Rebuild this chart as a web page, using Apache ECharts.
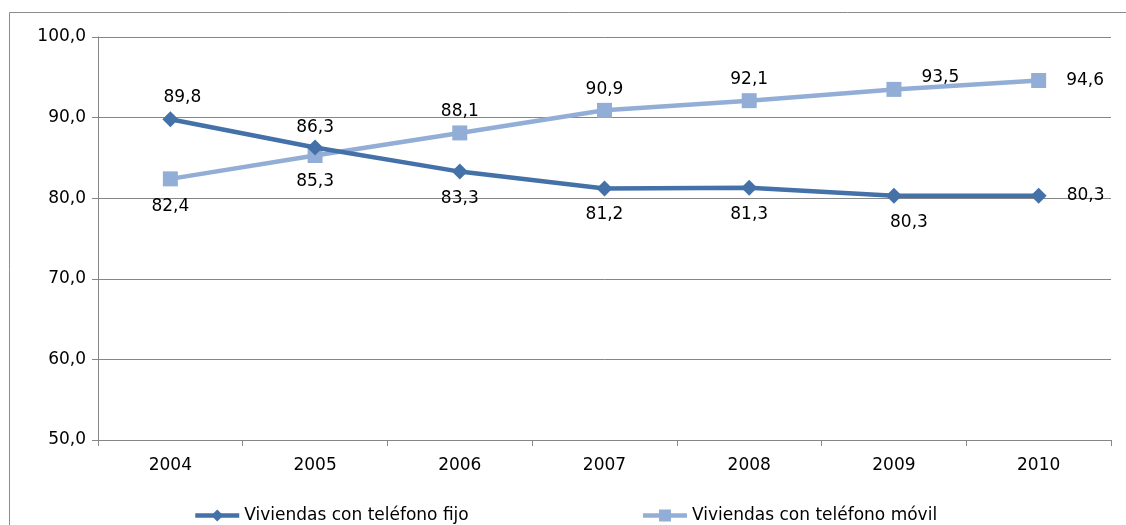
<!DOCTYPE html>
<html>
<head>
<meta charset="utf-8">
<script src="https://cdn.jsdelivr.net/npm/echarts@6/dist/echarts.min.js"></script>
<style>
  html, body { margin: 0; padding: 0; background: #fff; }
  #chart { width: 1126px; height: 525px; }
</style>
</head>
<body>
<div id="chart"></div>
<script>
const years = ['2004', '2005', '2006', '2007', '2008', '2009', '2010']
const fijo = [89.8, 86.3, 83.3, 81.2, 81.3, 80.3, 80.3]
const movil = [82.4, 85.3, 88.1, 90.9, 92.1, 93.5, 94.6]
const fijoName = 'Viviendas con teléfono fijo'
const movilName = 'Viviendas con teléfono móvil'

const FONT = 'DejaVu Sans'
const FS = 17
const fmt = v => v.toFixed(1).replace('.', ',')

// posición de cada etiqueta (como en el original)
const fijoLabels = [
  { position: 'top', offset: [12, 0] },
  { position: 'top', offset: [0, 2] },
  { position: 'bottom', distance: 10 },
  { position: 'bottom', distance: 10 },
  { position: 'bottom', distance: 10 },
  { position: 'bottom', distance: 10, offset: [15, 0] },
  { position: 'right', distance: 20 }
]
const movilLabels = [
  { position: 'bottom', distance: 12 },
  { position: 'bottom', distance: 10 },
  { position: 'top' },
  { position: 'top' },
  { position: 'top' },
  { position: 'right', distance: 20, offset: [0, -12] },
  { position: 'right', distance: 20 }
]

const mkData = (vals, labels) => vals.map((v, i) => ({ value: v, label: labels[i] }))

const chart = echarts.init(document.getElementById('chart'))
chart.setOption({
  animation: false,
  textStyle: { fontFamily: FONT },
  graphic: [{
    type: 'rect',
    shape: { x: 9.5, y: 12.5, width: 1200, height: 700 },
    style: { fill: 'none', stroke: '#8c8c8c', lineWidth: 1 },
    silent: true
  }],
  grid: { left: 98, right: 15, top: 37, bottom: 85 },
  legend: {
    left: 188,
    top: 502,
    itemGap: 172,
    itemWidth: 44,
    itemHeight: 15,
    lineStyle: { width: 4.5 },
    textStyle: { fontFamily: FONT, fontSize: FS, color: '#000' },
    data: [fijoName, movilName]
  },
  xAxis: {
    type: 'category',
    data: years,
    boundaryGap: true,
    axisLine: { lineStyle: { color: '#868686', width: 1 } },
    axisTick: { show: true, interval: 0, length: 6, lineStyle: { color: '#868686' } },
    axisLabel: { color: '#000', fontSize: FS, fontFamily: FONT, margin: 17 }
  },
  yAxis: {
    type: 'value',
    min: 50,
    max: 100,
    interval: 10,
    axisLine: { show: true, lineStyle: { color: '#868686', width: 1 } },
    axisTick: { show: true, length: 6, lineStyle: { color: '#868686' } },
    axisLabel: { color: '#000', fontSize: FS, fontFamily: FONT, margin: 12, formatter: v => fmt(v) },
    splitLine: { lineStyle: { color: '#868686', width: 1 } }
  },
  series: [
    {
      name: fijoName,
      type: 'line',
      data: mkData(fijo, fijoLabels),
      symbol: 'diamond',
      symbolSize: 16,
      lineStyle: { color: '#4571A9', width: 4.5 },
      itemStyle: { color: '#4571A9' },
      label: { show: true, color: '#000', fontSize: FS, fontFamily: FONT, distance: 5, formatter: p => fmt(p.value) },
      z: 3
    },
    {
      name: movilName,
      type: 'line',
      data: mkData(movil, movilLabels),
      symbol: 'rect',
      symbolSize: 15,
      lineStyle: { color: '#93AED6', width: 4.5 },
      itemStyle: { color: '#93AED6' },
      label: { show: true, color: '#000', fontSize: FS, fontFamily: FONT, distance: 5, formatter: p => fmt(p.value) },
      z: 2
    }
  ]
})
</script>
</body>
</html>
